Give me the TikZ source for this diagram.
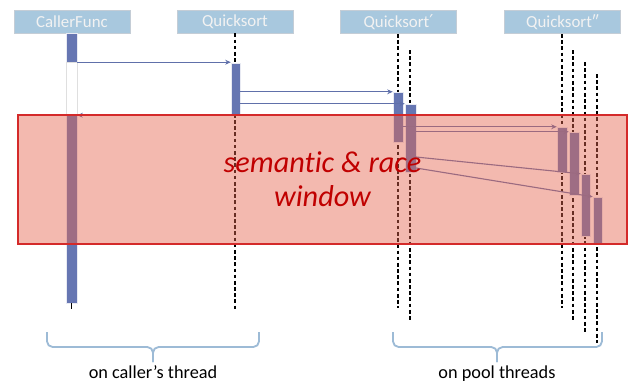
\documentclass[tikz,border=0pt]{standalone}
\usepackage{fontspec}
\setmainfont{Carlito}[Ligatures=NoCommon]
\newfontfamily\primefont{DejaVu Sans}
\usepackage{tikz}
\usetikzlibrary{arrows.meta,positioning,fit,calc}
\definecolor{headfill}{HTML}{A8C8DE}
\definecolor{headline}{HTML}{C4CDD6}
\definecolor{barfill}{HTML}{6676B2}
\definecolor{msgline}{HTML}{6070AA}
\definecolor{winfill}{HTML}{E4644E}
\definecolor{winline}{HTML}{D42A2A}
\definecolor{wintext}{HTML}{C00000}
\definecolor{bracecol}{HTML}{9DBBD6}

\begin{document}
\begin{tikzpicture}[x=0.025cm,y=-0.025cm,
  head/.style={fill=headfill,draw=headline,line width=0.6pt,text=white!95!black,font=\fontsize{12}{14}\selectfont,minimum width=2.9cm,minimum height=0.575cm,inner sep=0pt},
  bar/.style={fill=barfill,draw=white!85!barfill,line width=0.3pt,inner sep=0pt},
  life/.style={line width=0.9pt,dash pattern=on 2.6pt off 1.8pt},
  msg/.style={msgline,line width=0.8pt,-{Stealth[length=4pt,width=3.5pt]}},
  ret/.style={msgline,line width=0.8pt,dash pattern=on 1.4pt off 1pt,-{Stealth[length=4pt,width=3.5pt]}},
  thread/.style={bracecol,line width=1.3pt,rounded corners=4pt}]
\useasboundingbox (0,0) rectangle (634,383);
% headers
\node[head] (caller) at (72,21.5) {CallerFunc};
\node[head] (qsort) at (235,21.5) {Quicksort};
\node[head] (qsortp) at (398.5,22) {Quicksort{\primefont\fontsize{12.5}{14}\selectfont ′}};
\node[head] (qsortpp) at (562.5,22) {Quicksort″};
% lifelines
\draw[life] (qsort.south) -- (235,309);
\foreach \x/\a/\b in {398/34/308,410/50/322,562/34/308,573/50/322,585/62/333,597/74/343}
  \draw[life] (\x,\a) -- (\x,\b);
% activation bars
\node[bar,fit={(66,33)(77,62)}] (cfA) {};
\draw[gray!25,line width=0.4pt] (66,62) rectangle (77,115);
\node[bar,fit={(66,115)(77,303)}] (cfB) {};
\draw[line width=0.9pt] (cfB.south) -- ++(0,6);
\node[bar,fit={(231,63)(240,115)}] (qs) {};
\node[bar,fit={(393,92)(403,142)}] (qpa) {};
\node[bar,fit={(405,104)(416,172)}] (qpb) {};
\node[bar,fit={(557,127)(567,172)}] (qqa) {};
\node[bar,fit={(569,132)(579,195)}] (qqb) {};
\node[bar,fit={(581,174)(590,236)}] (qqc) {};
\node[bar,fit={(593,197)(602,243)}] (qqd) {};
% calls
\draw[msg] (cfA.south east) -- (cfA.south east -| qs.west);
\draw[msg] (qs.east |- qpa.north) -- (qpa.north west);
\draw[msg] (qs.east |- qpb.north) -- (qpb.north west);
\draw[ret] (qs.south west) -- (qs.south west -| cfB.east);
\draw[msg] (qpa.east |- qqa.north) -- (qqa.north west);
\draw[msg] (qpb.east |- qqb.north) -- (qqb.north west);
\coordinate (fc) at (416,157); \coordinate (fd) at (416,168);
\draw[msg] (fc) -- (qqc.north west);
\draw[msg] (fd) -- (qqd.north west);
% window
\node[fit={(18,115)(627,244)},inner sep=0pt,fill=winfill,fill opacity=0.45,draw=winline,draw opacity=1,line width=1pt] (win) {};
\node[text=wintext,font=\fontsize{21.5}{24}\selectfont\itshape,align=center] (wintxt) at (win.center) {semantic \& race\\window};
% threads
\coordinate (ctip) at (153,362); \coordinate (ptip) at (497,362);
\draw[thread] (47,332) -- (47,347) -- (ctip |- 0,347) -- (ctip);
\draw[thread] (259,332) -- (259,347) -- (ctip |- 0,347) -- (ctip);
\draw[thread] (393,332) -- (393,347) -- (ptip |- 0,347) -- (ptip);
\draw[thread] (602,332) -- (602,347) -- (ptip |- 0,347) -- (ptip);
\node[anchor=base,font=\fontsize{13}{15}\selectfont] (ctext) at (153,378.5) {on caller’s thread};
\node[anchor=base,font=\fontsize{13}{15}\selectfont] (ptext) at (497,378.5) {on pool threads};
\end{tikzpicture}
\end{document}
